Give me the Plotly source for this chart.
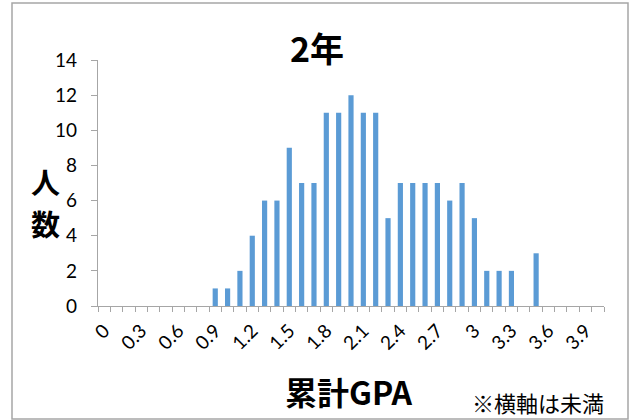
import plotly.graph_objects as go

# Data
gpa = [0.0, 0.1, 0.2, 0.3, 0.4, 0.5, 0.6, 0.7, 0.8, 0.9,
       1.0, 1.1, 1.2, 1.3, 1.4, 1.5, 1.6, 1.7, 1.8, 1.9,
       2.0, 2.1, 2.2, 2.3, 2.4, 2.5, 2.6, 2.7, 2.8, 2.9,
       3.0, 3.1, 3.2, 3.3, 3.4, 3.5, 3.6, 3.7, 3.8, 3.9, 4.0]
counts = [0, 0, 0, 0, 0, 0, 0, 0, 0, 1,
          1, 2, 4, 6, 6, 9, 7, 7, 11, 11,
          12, 11, 11, 5, 7, 7, 7, 7, 6, 7,
          5, 2, 2, 2, 0, 3, 0, 0, 0, 0, 0]
tick_vals = [0.0, 0.3, 0.6, 0.9, 1.2, 1.5, 1.8, 2.1, 2.4, 2.7, 3.0, 3.3, 3.6, 3.9]
tick_text = ["0", "0.3", "0.6", "0.9", "1.2", "1.5", "1.8", "2.1", "2.4", "2.7", "3", "3.3", "3.6", "3.9"]
y_ticks = [0, 2, 4, 6, 8, 10, 12, 14]

W, H = 632, 420
ML, MR, MT, MB = 98, 28, 60, 114
PW, PH = W - ML - MR, H - MT - MB

FONT = "Lato, 'Noto Sans CJK JP', sans-serif"
JP = "'Noto Sans CJK JP', sans-serif"
GRAY = "#A6A6A6"

fig = go.Figure()
fig.add_trace(go.Bar(
    x=gpa, y=counts, width=0.042,
    marker=dict(color="#5B9BD5", line=dict(width=0)),
))

def px_x(p):
    return (p - ML) / PW

def px_y(p):
    return (H - MB - p) / PH

fig.update_layout(
    width=W, height=H,
    margin=dict(l=ML, r=MR, t=MT, b=MB),
    paper_bgcolor="white", plot_bgcolor="white",
    showlegend=False,
    font=dict(family=FONT, size=19, color="#000000"),
    xaxis=dict(
        range=[-0.05, 4.05],
        tickmode="array", tickvals=tick_vals, ticktext=tick_text,
        tickangle=-45, ticks="", showgrid=False, zeroline=False,
        showline=True, linecolor=GRAY, linewidth=1.3,
        tickfont=dict(family=FONT, size=19), ticklabelstandoff=5,
        minor=dict(ticks="outside", ticklen=5, tick0=-0.05, dtick=0.1,
                   tickcolor=GRAY, tickwidth=1.3, showgrid=False),
    ),
    yaxis=dict(
        range=[0, 14], tickmode="array", tickvals=y_ticks,
        ticks="outside", ticklen=6, tickcolor=GRAY, tickwidth=1.3,
        showgrid=False, zeroline=False,
        showline=True, linecolor=GRAY, linewidth=1.3,
        tickfont=dict(family=FONT, size=19), ticklabelstandoff=10,
    ),
    shapes=[dict(type="rect", xref="paper", yref="paper",
                 x0=px_x(12), x1=px_x(628), y0=px_y(419), y1=px_y(3),
                 line=dict(color=GRAY, width=1.5), fillcolor="rgba(0,0,0,0)",
                 layer="below")],
    annotations=[
        dict(text="<b>2年</b>", xref="paper", yref="paper",
             x=px_x(317), y=px_y(47), xanchor="center", yanchor="middle",
             showarrow=False, font=dict(family=JP, size=34)),
        dict(text="<b>人</b>", xref="paper", yref="paper",
             x=px_x(45), y=px_y(181), xanchor="center", yanchor="middle",
             showarrow=False, font=dict(family=JP, size=29)),
        dict(text="<b>数</b>", xref="paper", yref="paper",
             x=px_x(45), y=px_y(223), xanchor="center", yanchor="middle",
             showarrow=False, font=dict(family=JP, size=29)),
        dict(text="<b>累計GPA</b>", xref="paper", yref="paper",
             x=px_x(348), y=px_y(391), xanchor="center", yanchor="middle",
             showarrow=False, font=dict(family=JP, size=32)),
        dict(text="※横軸は未満", xref="paper", yref="paper",
             x=px_x(538), y=px_y(402), xanchor="center", yanchor="middle",
             showarrow=False, font=dict(family=JP, size=22)),
    ],
)

fig.write_html("out.html", config={"displayModeBar": False},
               post_script="document.body.style.margin='0';document.body.style.overflow='hidden';")
